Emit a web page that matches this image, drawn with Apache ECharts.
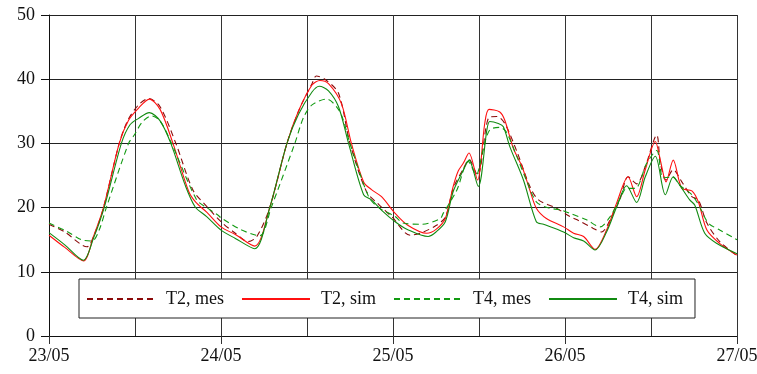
<!DOCTYPE html>
<html><head><meta charset="utf-8">
<script src="https://cdn.jsdelivr.net/npm/echarts@6/dist/echarts.min.js"></script>
<style>html,body{margin:0;padding:0;background:#fff}#c{width:757px;height:374px}</style>
</head><body><div id="c"></div>
<script>
const dayLabels = ['23/05', '24/05', '25/05', '26/05', '27/05'];
const yTicks = [0, 10, 20, 30, 40, 50];
const seriesNames = ['T2, mes', 'T2, sim', 'T4, mes', 'T4, sim'];

// hours since 23/05 00:00
const t2MesHours = [0, 2.2, 5.3, 6.4, 7.6, 9.8, 11, 12.5, 13.9, 15.5, 17.7, 20.1, 22, 24, 26, 27.8, 29, 30.8, 33.2, 35, 36.7, 37.3, 38.5, 40.4, 42, 44.3, 46, 47.9, 50.4, 52, 54, 55.3, 56.4, 57.8, 58.6, 59.8, 61.3, 62.5, 63.6, 65.3, 67.1, 68.3, 70.8, 72.7, 73.7, 75.9, 77.1, 78.5, 79.7, 80.8, 82, 83.2, 84.8, 85.3, 86.1, 87.1, 88.3, 89.7, 90.6, 91.8, 93.6, 96];
const t2MesValues = [17.4, 16.2, 13.9, 16.0, 20, 30, 33.6, 36.0, 37.0, 35.7, 30, 22.7, 20.2, 17.8, 16.0, 14.7, 15.5, 20, 30, 35.5, 39.3, 40.5, 40.0, 37.8, 30, 22.5, 20.5, 18.5, 15.7, 16.1, 17.2, 18.5, 23.0, 26.0, 27.5, 25.0, 33.9, 34.2, 33.1, 28.7, 23.3, 21.2, 19.9, 18.6, 18.1, 16.8, 16.2, 18.6, 21.4, 24.8, 23.7, 26.4, 31.3, 27.0, 24.3, 25.9, 24.0, 21.7, 21.2, 17.6, 14.7, 12.5];

const t2SimHours = [0, 2.2, 4.8, 6.2, 7.6, 9.8, 11.1, 12.5, 14, 15.5, 17.3, 19.5, 20.5, 22, 24, 26, 28.7, 30.8, 33.2, 34.8, 36.7, 37.8, 39, 40.8, 42.2, 43.9, 45, 46.4, 48.3, 50, 52.7, 54, 55.3, 56.4, 57.1, 57.8, 58.6, 59.8, 60.8, 61.4, 62.9, 63.6, 64.8, 66, 67.1, 68, 69.4, 71.8, 73.2, 74.6, 76.2, 77.8, 79.2, 80.8, 82, 83.2, 84.6, 85.3, 86.1, 87.1, 88.3, 89.7, 90.6, 91.8, 93.6, 96];
const t2SimValues = [15.7, 13.8, 11.7, 15.5, 20, 30, 33.6, 35.5, 36.9, 35.3, 30, 22.5, 20.8, 19.3, 17.0, 15.8, 14.0, 20, 30, 35.0, 39.1, 39.8, 39.3, 36.2, 30, 24.0, 22.8, 21.7, 19.1, 17.3, 16.0, 16.6, 18.3, 23.3, 25.7, 26.9, 28.5, 24.3, 33.1, 35.3, 34.9, 33.6, 29.2, 26.4, 22.7, 19.9, 18.3, 17.0, 16.0, 15.5, 13.5, 16.5, 20.7, 24.8, 21.7, 25.9, 30.3, 27.4, 24.0, 27.4, 23.0, 22.6, 20.9, 16.5, 14.4, 12.6];

const t4MesHours = [0, 2.5, 4.5, 6, 7, 8, 11.1, 11.9, 13, 14.3, 15.5, 17.1, 20.6, 22, 23.6, 24, 26.9, 29.4, 31, 34.3, 35.5, 36.7, 38.7, 40.6, 42, 44.6, 46, 48.3, 49.4, 52, 54.6, 55, 56.9, 58.5, 59.6, 60.6, 61.5, 62.9, 63.8, 65.3, 66.6, 68, 69.5, 71.5, 72.7, 75, 76.9, 78.3, 79.7, 80.6, 81.8, 83.4, 84.8, 85.7, 87, 88, 89.7, 90.8, 92, 93.6, 96];
const t4MesValues = [17.6, 16.3, 15.0, 14.8, 16.5, 20, 30, 31.3, 33.3, 34.3, 33.5, 30, 21.2, 20.0, 18.8, 18.4, 16.5, 15.6, 20, 30, 34.0, 36.0, 36.9, 34.9, 30, 21.7, 20.0, 18.6, 17.6, 17.4, 18.3, 19.1, 22.7, 27.2, 25.1, 29.2, 32.1, 32.5, 31.8, 27.9, 24.3, 20.9, 20.0, 19.6, 19.1, 18.1, 17.0, 18.6, 21.4, 23.0, 23.0, 26.9, 28.9, 24.6, 24.8, 23.5, 22.0, 20.1, 17.6, 16.5, 15.0];

const t4SimHours = [0, 2.2, 4.8, 6.2, 7.7, 10.1, 11.3, 12.5, 14, 15.5, 17, 19, 20.4, 22, 24, 26, 28.7, 30.8, 33.2, 34.8, 36.7, 37.7, 39, 40.4, 41.8, 43.9, 45, 46.5, 48.3, 50, 52.9, 54, 55.3, 56.4, 57.8, 58.6, 59.9, 61.1, 61.5, 62.7, 63.4, 64.3, 66.2, 68, 69, 71.8, 73.2, 74.6, 76.2, 77.8, 79.2, 80.6, 82, 83.2, 84.6, 86, 87.1, 88, 89.4, 90.1, 91.5, 93.2, 96];
const t4SimValues = [16.1, 14.2, 11.8, 15.2, 20, 30, 32.9, 33.9, 34.8, 33.5, 30, 23.5, 20.1, 18.6, 16.5, 15.2, 13.6, 20, 30, 34.5, 38.0, 38.9, 38.2, 35.7, 30, 22.0, 21.2, 19.5, 17.8, 16.6, 15.5, 16.2, 17.8, 22.5, 25.8, 27.4, 23.3, 32.1, 33.4, 33.1, 32.6, 29.5, 24.3, 17.8, 17.4, 16.2, 15.3, 14.8, 13.4, 16.2, 20.1, 23.4, 20.8, 24.8, 28.0, 22.0, 24.8, 23.5, 21.2, 20.4, 16.0, 14.4, 12.8];

const FONT = 'Liberation Serif';
function pairs(h, v) { return h.map((x, i) => [x, v[i]]); }

const chart = echarts.init(document.getElementById('c'), null, { renderer: 'canvas' });
const mk = (name, h, v, color, dashed) => ({
  name, type: 'line', data: pairs(h, v), symbol: 'none', smooth: 0.3,
  lineStyle: { color, width: 1.1, type: dashed ? [6, 4] : 'solid' },
  itemStyle: { color }, animation: false
});
chart.setOption({
  animation: false,
  backgroundColor: '#fff',
  grid: { left: 49, right: 20, top: 15, bottom: 38, outerBoundsMode: 'none', containLabel: false },
  xAxis: [{
    type: 'value', min: 0, max: 96, interval: 12, position: 'bottom',
    axisLine: { show: true, lineStyle: { color: '#111', width: 1 } },
    axisTick: { show: false },
    axisLabel: { fontFamily: FONT, fontSize: 18, color: '#111', margin: 11, hideOverlap: false,
      formatter: v => (v % 24 === 0 ? dayLabels[v / 24] : '') },
    splitLine: { show: true, lineStyle: { color: '#333', width: 1 } }
  }, {
    type: 'value', min: 0, max: 96, interval: 24, position: 'bottom',
    axisLine: { show: false },
    axisTick: { show: true, length: 8, lineStyle: { color: '#333' } },
    axisLabel: { show: false }, splitLine: { show: false }
  }],
  yAxis: {
    type: 'value', min: yTicks[0], max: yTicks[yTicks.length - 1], interval: 10,
    axisLine: { show: true, lineStyle: { color: '#111', width: 1 } },
    axisTick: { show: true, length: 8, lineStyle: { color: '#111' } },
    axisLabel: { fontFamily: FONT, fontSize: 18, color: '#111', margin: 14 },
    splitLine: { show: true, lineStyle: { color: '#222', width: 1 } }
  },
  legend: {
    data: seriesNames, left: 79, top: 279, orient: 'horizontal',
    itemWidth: 68, itemHeight: 12, itemGap: 17,
    padding: [11, 12, 10, 7],
    borderColor: '#222', borderWidth: 1, backgroundColor: '#fff', borderRadius: 0,
    itemStyle: { opacity: 0 },
    textStyle: { fontFamily: FONT, fontSize: 18, color: '#111', padding: [0, 0, 0, 6] }
  },
  series: [
    mk(seriesNames[0], t2MesHours, t2MesValues, '#8b0a0a', true),
    mk(seriesNames[1], t2SimHours, t2SimValues, '#ff1010', false),
    mk(seriesNames[2], t4MesHours, t4MesValues, '#119a11', true),
    mk(seriesNames[3], t4SimHours, t4SimValues, '#118a11', false)
  ]
});
</script>
</body></html>
